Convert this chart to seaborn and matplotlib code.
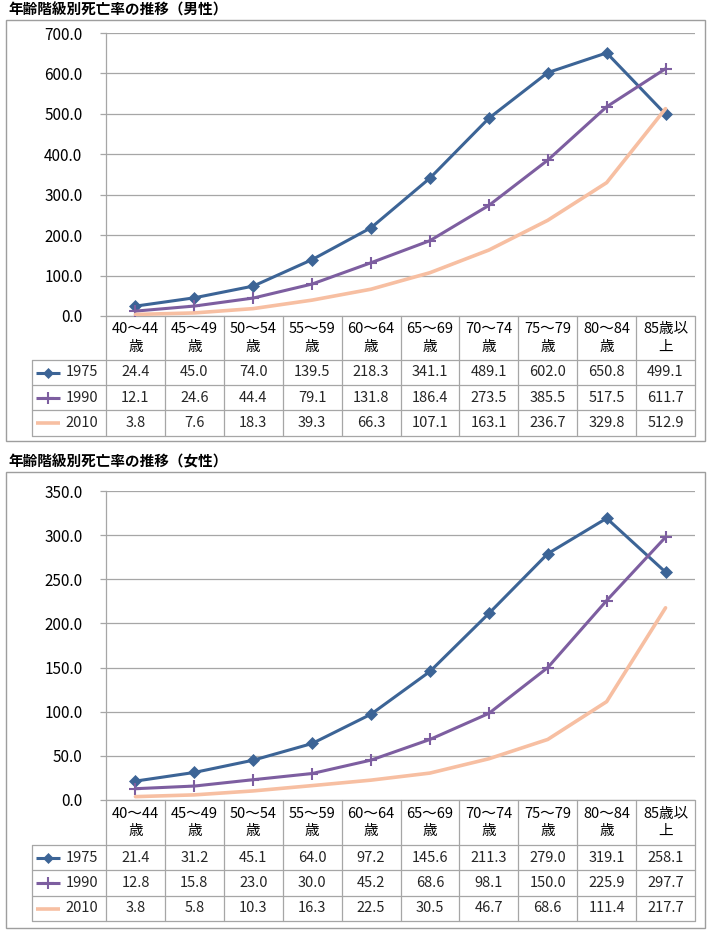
import matplotlib
matplotlib.use("Agg")
import numpy as np
import pandas as pd
import seaborn as sns
import matplotlib.pyplot as plt
from matplotlib.patches import Rectangle
from matplotlib.ticker import FuncFormatter

# ---------------- data ----------------
categories = ["40～44\n歳", "45～49\n歳", "50～54\n歳", "55～59\n歳", "60～64\n歳",
              "65～69\n歳", "70～74\n歳", "75～79\n歳", "80～84\n歳", "85歳以\n上"]
years = ["1975", "1990", "2010"]

title_male = "年齢階級別死亡率の推移（男性）"
title_female = "年齢階級別死亡率の推移（女性）"

male_1975 = [24.4, 45.0, 74.0, 139.5, 218.3, 341.1, 489.1, 602.0, 650.8, 499.1]
male_1990 = [12.1, 24.6, 44.4, 79.1, 131.8, 186.4, 273.5, 385.5, 517.5, 611.7]
male_2010 = [3.8, 7.6, 18.3, 39.3, 66.3, 107.1, 163.1, 236.7, 329.8, 512.9]

female_1975 = [21.4, 31.2, 45.1, 64.0, 97.2, 145.6, 211.3, 279.0, 319.1, 258.1]
female_1990 = [12.8, 15.8, 23.0, 30.0, 45.2, 68.6, 98.1, 150.0, 225.9, 297.7]
female_2010 = [3.8, 5.8, 10.3, 16.3, 22.5, 30.5, 46.7, 68.6, 111.4, 217.7]

male_yticks = [0, 100, 200, 300, 400, 500, 600, 700]
female_yticks = [0, 50, 100, 150, 200, 250, 300, 350]

# ---------------- styles ----------------
colors = {"1975": "#3C6496", "1990": "#7D5EA0", "2010": "#F7BFA2"}
markers = {"1975": "D", "1990": "+", "2010": None}
msizes = {"1975": 6, "1990": 9, "2010": 0}
lwidths = {"1975": 2.2, "1990": 2.2, "2010": 2.6}
grid_c = "#A6A6A6"

sns.set_theme(style="white")
plt.rcParams["font.family"] = ["Noto Sans CJK JP", "DejaVu Sans"]

W, H = 711, 936
fig = plt.figure(figsize=(W / 100, H / 100), dpi=100)
fig.patch.set_facecolor("white")

overlay = fig.add_axes([0, 0, 1, 1], zorder=0)
overlay.set_xlim(0, W)
overlay.set_ylim(H, 0)
overlay.axis("off")

col_edges = np.linspace(106, 695, len(categories) + 1)
leg_left = 32


def draw_chart(title, series, yticks, title_y, panel_top, panel_bot,
               plot_top, plot_bot, row_edges):
    # panel border + title
    overlay.add_patch(Rectangle((6, panel_top), 699, panel_bot - panel_top,
                                fill=False, edgecolor="#9E9E9E", lw=1.0))
    overlay.text(8, title_y, title, fontsize=10.5, fontweight="bold",
                 ha="left", va="center", color="black")

    ax = fig.add_axes([106 / W, 1 - plot_bot / H, (695 - 106) / W,
                       (plot_bot - plot_top) / H], zorder=2)
    ax.patch.set_alpha(0)
    x = np.arange(len(categories))
    for yr, vals in zip(years, series):
        sns.lineplot(x=x, y=vals, ax=ax, color=colors[yr],
                     marker=markers[yr], markersize=msizes[yr],
                     markeredgewidth=1.5 if yr == "1990" else 0.5,
                     markeredgecolor=colors[yr],
                     linewidth=lwidths[yr], legend=False, zorder=3)
    ax.set_xlim(-0.5, len(categories) - 0.5)
    ax.set_ylim(yticks[0], yticks[-1])
    ax.set_yticks(yticks)
    ax.yaxis.set_major_formatter(FuncFormatter(lambda v, p: f"{v:.1f}"))
    ax.set_xticks([])
    ax.set_xlabel("")
    ax.set_ylabel("")
    ax.grid(axis="y", color=grid_c, lw=0.9)
    ax.set_axisbelow(True)
    for s in ["top", "right", "bottom"]:
        ax.spines[s].set_visible(False)
    ax.spines["left"].set_color(grid_c)
    ax.spines["left"].set_linewidth(0.9)
    ax.tick_params(axis="y", length=4, width=0.9, color=grid_c, pad=13,
                   labelsize=11, labelcolor="black", left=True)

    # ---- data table ----
    r0, r1 = row_edges[0], row_edges[-1]
    lc = grid_c
    overlay.plot([col_edges[0], col_edges[-1]], [r0, r0], color=lc, lw=0.9)
    for xe in col_edges:
        overlay.plot([xe, xe], [r0, r1], color=lc, lw=0.9)
    for ry in row_edges[1:]:
        overlay.plot([leg_left, col_edges[-1]], [ry, ry], color=lc, lw=0.9)
    overlay.plot([leg_left, leg_left], [row_edges[1], r1], color=lc, lw=0.9)
    for i, cat in enumerate(categories):
        cx = (col_edges[i] + col_edges[i + 1]) / 2
        overlay.text(cx, (row_edges[0] + row_edges[1]) / 2, cat,
                     ha="center", va="center", fontsize=10.5,
                     linespacing=1.3, color="black")
    for k, (yr, vals) in enumerate(zip(years, series)):
        cy = (row_edges[k + 1] + row_edges[k + 2]) / 2
        overlay.plot([36, 60], [cy, cy], color=colors[yr], lw=lwidths[yr],
                     solid_capstyle="butt")
        if markers[yr]:
            overlay.plot([48], [cy], marker=markers[yr], color=colors[yr],
                         markersize=msizes[yr] * 0.9,
                         markeredgewidth=1.5 if yr == "1990" else 0.5,
                         markeredgecolor=colors[yr])
        overlay.text(82, cy, yr, ha="center", va="center", fontsize=10.5)
        for i, v in enumerate(vals):
            cx = (col_edges[i] + col_edges[i + 1]) / 2
            overlay.text(cx, cy, f"{v:.1f}", ha="center", va="center",
                         fontsize=10.5)


draw_chart(title_male, [male_1975, male_1990, male_2010], male_yticks,
           title_y=10, panel_top=20, panel_bot=441,
           plot_top=33, plot_bot=316, row_edges=[316, 360, 385, 410, 436])
draw_chart(title_female, [female_1975, female_1990, female_2010], female_yticks,
           title_y=461, panel_top=472, panel_bot=928,
           plot_top=491, plot_bot=800, row_edges=[800, 845, 870, 896, 921])

fig.savefig("out.png", dpi=100, facecolor="white")
